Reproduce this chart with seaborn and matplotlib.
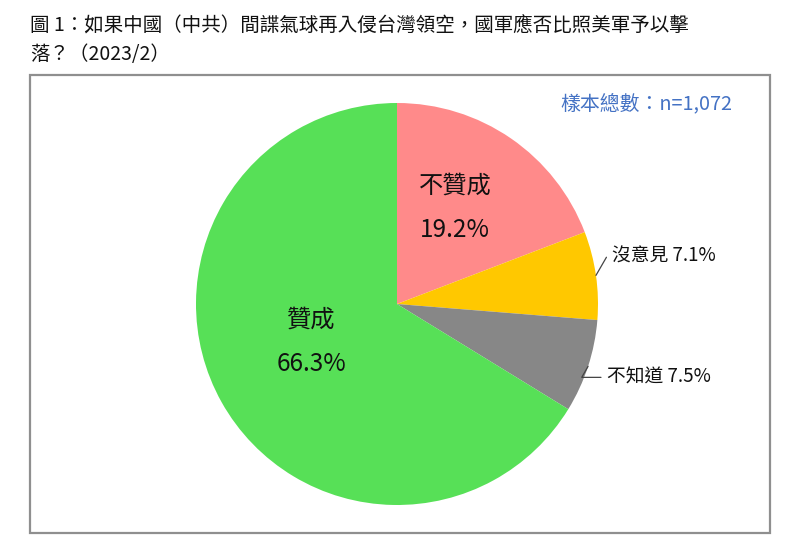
import numpy as np
import seaborn as sns
import matplotlib.pyplot as plt
from matplotlib.patches import Rectangle

# datos del grafico
categorias = ["不贊成", "沒意見", "不知道", "贊成"]
porcentajes = [19.2, 7.1, 7.5, 66.3]
colores = ["#FF8A8A", "#FFC800", "#878787", "#57E057"]
titulo = "圖 1：如果中國（中共）間諜氣球再入侵台灣領空，國軍應否比照美軍予以擊\n落？（2023/2）"
muestra = "樣本總數：n=1,072"

sns.set_theme(style="white")
plt.rcParams['font.family'] = ['Noto Sans CJK TC', 'DejaVu Sans']

fig = plt.figure(figsize=(8, 5.46), dpi=100)

# marco del grafico
fig.patches.append(Rectangle((30 / 800, 13 / 546), 740 / 800, 458 / 546,
                             transform=fig.transFigure, fill=False,
                             edgecolor="#8f8f8f", linewidth=1.6))

fig.text(30 / 800, 1 - 16 / 546, titulo, ha='left', va='top', fontsize=14,
         color="#111111", linespacing=1.45)
fig.text(732 / 800, 1 - 104 / 546, muestra, ha='right', va='center',
         fontsize=14.3, color="#4472C4")

ax = fig.add_axes([196 / 800, 41 / 546, 402 / 800, 402 / 546])
wedges, _ = ax.pie(porcentajes, colors=colores, startangle=90,
                   counterclock=False, radius=1.0,
                   wedgeprops=dict(linewidth=0))
ax.set_xlim(-1, 1)
ax.set_ylim(-1, 1)
ax.set_aspect('equal')
ax.axis('off')

# etiquetas dentro del pastel
internas = {0: (0.29, 0.48), 3: (-0.425, -0.19)}
for i, (x, y) in internas.items():
    ax.text(x, y + 0.11, categorias[i], ha='center', va='center', fontsize=17.5,
            color="#111111", fontweight='medium')
    ax.text(x, y - 0.11, f"{porcentajes[i]}%", ha='center', va='center', fontsize=17.5,
            color="#111111", fontweight='medium')

# etiquetas externas con linea guia
offsets = {1: (1.07, 0.24), 2: (1.045, -0.365)}
for i, (tx, ty) in offsets.items():
    w = wedges[i]
    ang = np.deg2rad((w.theta1 + w.theta2) / 2)
    ax.annotate(f"{categorias[i]} {porcentajes[i]}%",
                xy=(np.cos(ang), np.sin(ang)), xytext=(tx, ty),
                ha='left', va='center', fontsize=13.5, color="#111111",
                annotation_clip=False,
                arrowprops=dict(arrowstyle='-', color="#444444", lw=0.9,
                                shrinkA=2, shrinkB=0,
                                connectionstyle="angle,angleA=0,angleB=60,rad=0"))

fig.savefig("out.png", dpi=100)
